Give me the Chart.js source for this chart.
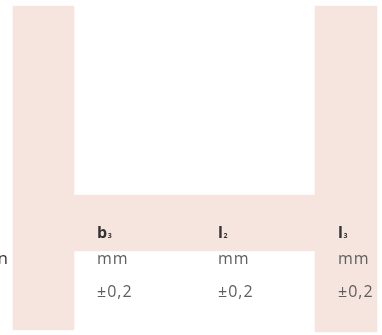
<!DOCTYPE html>
<html>
<head>
<meta charset="utf-8">
<script src="https://cdn.jsdelivr.net/npm/chart.js@4.4.1/dist/chart.umd.min.js"></script>
<style>
  html, body { margin: 0; padding: 0; background: #fff; }
  #wrap { width: 382px; height: 335px; position: relative; }
</style>
</head>
<body>
<div id="wrap"><canvas id="c"></canvas></div>
<script>
// shaded table blocks (table coordinates: x across, y down)
const blockX = [[13, 74], [315, 377], [74, 315]];
const blockY = [[6, 330], [6, 332], [195, 251]];

// column headers and rows
const symbols = ['b', 'l', 'l'];
const subscripts = ['3', '2', '3'];
const units = ['mm', 'mm', 'mm'];
const tolerances = ['±0,2', '±0,2', '±0,2'];
const columnX = [97, 218, 338];
const rowLabel = 'n';

const shade = '#f5e5de';

const tableText = {
  id: 'tableText',
  afterDatasetsDraw(chart) {
    const { ctx, scales: { x, y } } = chart;
    ctx.save();
    ctx.textBaseline = 'alphabetic';
    ctx.textAlign = 'left';
    symbols.forEach((s, i) => {
      const px = x.getPixelForValue(columnX[i]);
      ctx.fillStyle = '#333';
      ctx.font = 'bold 16px "Open Sans"';
      ctx.fillText(s, px, y.getPixelForValue(238));
      const w = ctx.measureText(s).width;
      ctx.font = 'bold 7px "Open Sans"';
      ctx.fillText(subscripts[i], px + w + 0.5, y.getPixelForValue(238));

      ctx.fillStyle = '#5e5e5e';
      ctx.font = '16px "Open Sans"';
      ctx.letterSpacing = '1px';
      ctx.fillText(units[i], px, y.getPixelForValue(264));
      ctx.fillText(tolerances[i], px, y.getPixelForValue(297));
      ctx.letterSpacing = '0px';
    });
    ctx.fillStyle = '#333';
    ctx.font = '17px "Open Sans"';
    ctx.textAlign = 'right';
    ctx.fillText(rowLabel, x.getPixelForValue(8), y.getPixelForValue(264));
    ctx.restore();
  }
};

new Chart(document.getElementById('c'), {
  type: 'bar',
  data: {
    datasets: blockX.map((bx, i) => ({
      data: [{ x: (bx[0] + bx[1]) / 2, y: blockY[i] }],
      backgroundColor: shade,
      borderWidth: 0,
      barThickness: bx[1] - bx[0],
      grouped: false
    }))
  },
  options: {
    responsive: true,
    maintainAspectRatio: false,
    animation: false,
    events: [],
    layout: { padding: 0 },
    plugins: { legend: { display: false }, tooltip: { enabled: false } },
    scales: {
      x: { type: 'linear', min: 0, max: 382, offset: false, display: false },
      y: { type: 'linear', min: 0, max: 335, reverse: true, display: false }
    }
  },
  plugins: [tableText]
});
</script>
</body>
</html>
